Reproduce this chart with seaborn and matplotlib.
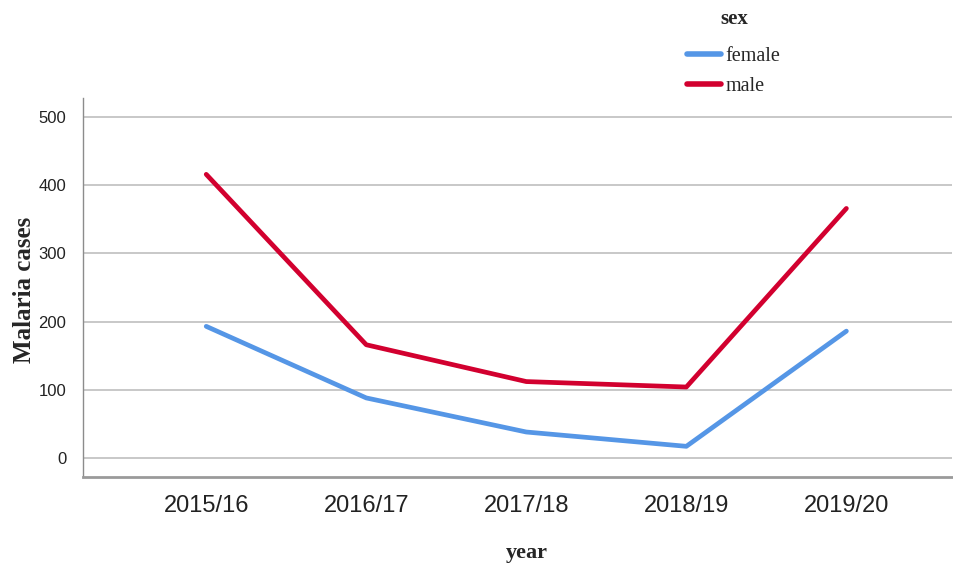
import pandas as pd
import matplotlib
matplotlib.use("Agg")
import matplotlib.pyplot as plt
import seaborn as sns
from matplotlib import font_manager

# Data
years = ["2015/16", "2016/17", "2017/18", "2018/19", "2019/20"]
female_cases = [193, 88, 38, 17, 186]
male_cases = [416, 166, 112, 104, 366]
sex_labels = ["female", "male"]
y_ticks = [0, 100, 200, 300, 400, 500]

df = pd.DataFrame({
    "year": years * 2,
    "cases": female_cases + male_cases,
    "sex": [sex_labels[0]] * len(years) + [sex_labels[1]] * len(years),
})

sns.set_style("white")

installed = {f.name for f in font_manager.fontManager.ttflist}
tick_font = "Liberation Sans Narrow" if "Liberation Sans Narrow" in installed else "Liberation Sans"
serif_font = "Liberation Serif"

W, H = 954, 565
fig = plt.figure(figsize=(W / 100, H / 100), dpi=100)
ax = fig.add_axes([83 / W, 1 - 477 / H, (952 - 83) / W, (477 - 98) / H])

palette = {"female": "#5596E6", "male": "#D2002F"}
sns.lineplot(data=df, x="year", y="cases", hue="sex", palette=palette,
             linewidth=3.4, ax=ax, sort=False)

ax.set_xlim(-0.77, 4.66)
ax.set_ylim(-28, 528)
ax.set_yticks(y_ticks)
ax.yaxis.grid(True, color="#C8C8C8", linewidth=1.4)
ax.xaxis.grid(False)
ax.set_axisbelow(True)

for side in ["top", "right"]:
    ax.spines[side].set_visible(False)
ax.spines["left"].set_color("#8C8C8C")
ax.spines["left"].set_linewidth(1.0)
ax.spines["bottom"].set_color("#9A9A9A")
ax.spines["bottom"].set_linewidth(2.0)

ax.tick_params(axis="both", length=0)
ax.tick_params(axis="x", pad=13)
ax.tick_params(axis="y", pad=12)
for lbl in ax.get_xticklabels():
    lbl.set_fontfamily(tick_font)
    lbl.set_fontsize(17)
    lbl.set_color("#222222")
for lbl in ax.get_yticklabels():
    lbl.set_fontfamily(tick_font)
    lbl.set_fontsize(12)
    lbl.set_color("#222222")

ax.set_xlabel("year", fontfamily=serif_font, fontweight="bold", fontsize=16)
ax.set_ylabel("Malaria cases", fontfamily=serif_font, fontweight="bold", fontsize=18)
ax.xaxis.set_label_coords(527 / W, 1 - 553 / H, transform=fig.transFigure)
ax.yaxis.set_label_coords(25 / W, 1 - 290 / H, transform=fig.transFigure)
ax.xaxis.label.set_va("center")
ax.yaxis.label.set_va("center")

handles, labels = ax.get_legend_handles_labels()
leg = ax.legend(handles, labels, loc="upper left",
                bbox_to_anchor=(687 / W, 1 - 47 / H), bbox_transform=fig.transFigure,
                frameon=False, handlelength=1.7, handletextpad=0.22,
                labelspacing=0.55, borderpad=0, borderaxespad=0,
                prop={"family": serif_font, "size": 14.5})
for line in leg.get_lines():
    line.set_linewidth(4)
fig.text(734 / W, 1 - 19 / H, "sex", ha="center", va="center",
         fontfamily=serif_font, fontweight="bold", fontsize=15)

fig.savefig("out.png", dpi=100)
